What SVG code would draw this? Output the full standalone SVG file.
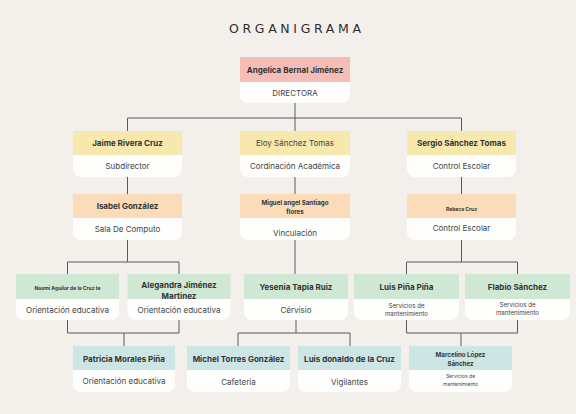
<svg xmlns="http://www.w3.org/2000/svg" width="576" height="414" viewBox="0 0 576 414">
<style>
.bg{fill:#f3f0eb}
.body{fill:#fefefd}
.p{fill:#f5bdb6}.y{fill:#f7e8ad}.o{fill:#fcdcb8}.g{fill:#cfe8d3}.t{fill:#cde6e5}
.n{font-family:Inter,"Liberation Sans",sans-serif;font-weight:700;font-size:8px;fill:#333;text-anchor:middle;dominant-baseline:central}
.s{font-family:Inter,"Liberation Sans",sans-serif;font-size:8px;fill:#444;text-anchor:middle;dominant-baseline:central}
.xs{font-size:5px}
.sm{font-size:6.2px}
.title{font-family:"DejaVu Sans",sans-serif;font-weight:500;font-size:12.5px;fill:#2e2e2e;text-anchor:middle;dominant-baseline:central}
#connectors path{fill:none;stroke:#5a5a5a;stroke-width:1}
</style>
<rect class="bg" width="576" height="414"/>
<text class="title" x="295" y="28" textLength="132" lengthAdjust="spacing">ORGANIGRAMA</text>
<g id="connectors">
<path d="M295 103V118M127.5 118H461.5M127.5 118V131M295 118V131M461.5 118V131"/>
<path d="M127.5 177V194M295 177V194M461.5 177V194"/>
<path d="M127.5 240V262M67.5 262H179M67.5 262V274M179 262V274"/>
<path d="M295 240V274"/>
<path d="M461.5 240V262M406.5 262H517.5M406.5 262V274M517.5 262V274"/>
<path d="M67.5 320V333M179 320V333M67.5 333H179M124 333V346"/>
<path d="M296 320V333M238 333H350M238 333V346M350 333V346"/>
<path d="M406.5 320V333M517.5 320V333M406.5 333H517.5M461 333V346"/>
</g>
<g id="n-angelica" transform="translate(240 57)">
<path class="body" d="M0 25H110V38a8 8 0 0 1-8 8H8a8 8 0 0 1-8-8Z"/>
<rect class="p" width="110" height="25"/>
<text class="n" x="55" y="12.5">Angelica Bernal Jiménez</text>
<text class="s" x="55" y="35.5">DIRECTORA</text>
</g>
<g id="n-jaime" transform="translate(73 131)">
<path class="body" d="M0 24H109V38a8 8 0 0 1-8 8H8a8 8 0 0 1-8-8Z"/>
<rect class="y" width="109" height="24"/>
<text class="n" x="54.5" y="12">Jaime Rivera Cruz</text>
<text class="s" x="54.5" y="35">Subdirector</text>
</g>
<g id="n-eloy" transform="translate(240 131)">
<path class="body" d="M0 24H110V38a8 8 0 0 1-8 8H8a8 8 0 0 1-8-8Z"/>
<rect class="y" width="110" height="24"/>
<text class="s" x="55" y="12">Eloy Sánchez Tomas</text>
<text class="s" x="55" y="35">Cordinación Académica</text>
</g>
<g id="n-sergio" transform="translate(407 131)">
<path class="body" d="M0 24H109V38a8 8 0 0 1-8 8H8a8 8 0 0 1-8-8Z"/>
<rect class="y" width="109" height="24"/>
<text class="n" x="54.5" y="12">Sergio Sánchez Tomas</text>
<text class="s" x="54.5" y="35">Control Escolar</text>
</g>
<g id="n-isabel" transform="translate(73 194)">
<path class="body" d="M0 24H109V38a8 8 0 0 1-8 8H8a8 8 0 0 1-8-8Z"/>
<rect class="o" width="109" height="24"/>
<text class="n" x="54.5" y="12">Isabel González</text>
<text class="s" x="54.5" y="35">Sala De Computo</text>
</g>
<g id="n-miguel" transform="translate(240 194)">
<path class="body" d="M0 24H110V38a8 8 0 0 1-8 8H8a8 8 0 0 1-8-8Z"/>
<rect class="o" width="110" height="24"/>
<text class="n sm" x="55" y="8">Miguel angel Santiago</text>
<text class="n sm" x="55" y="17">flores</text>
<text class="s" x="55" y="39">Vinculación</text>
</g>
<g id="n-rebeca" transform="translate(407 194)">
<path class="body" d="M0 24H109V38a8 8 0 0 1-8 8H8a8 8 0 0 1-8-8Z"/>
<rect class="o" width="109" height="24"/>
<text class="n xs" x="54.5" y="15">Rebeca Cruz</text>
<text class="s" x="54.5" y="34">Control Escolar</text>
</g>
<g id="n-naomi" transform="translate(16 274)">
<path class="body" d="M0 25H103V38a8 8 0 0 1-8 8H8a8 8 0 0 1-8-8Z"/>
<rect class="g" width="103" height="25"/>
<text class="n xs" x="51.5" y="14">Naomi Aguilar de la Cruz te</text>
<text class="s" x="51.5" y="36">Orientación educativa</text>
</g>
<g id="n-alegandra" transform="translate(127.5 274)">
<path class="body" d="M0 25H103V38a8 8 0 0 1-8 8H8a8 8 0 0 1-8-8Z"/>
<rect class="g" width="103" height="25"/>
<text class="n" x="51.5" y="11">Alegandra Jiménez</text>
<text class="n" x="51.5" y="22">Martinez</text>
<text class="s" x="51.5" y="36">Orientación educativa</text>
</g>
<g id="n-yesenia" transform="translate(244 274)">
<path class="body" d="M0 25H104V38a8 8 0 0 1-8 8H8a8 8 0 0 1-8-8Z"/>
<rect class="g" width="104" height="25"/>
<text class="n" x="52" y="13">Yesenia Tapia Ruiz</text>
<text class="s" x="52" y="36">Cérvisio</text>
</g>
<g id="n-luispina" transform="translate(354 274)">
<path class="body" d="M0 25H105V38a8 8 0 0 1-8 8H8a8 8 0 0 1-8-8Z"/>
<rect class="g" width="105" height="25"/>
<text class="n" x="52.5" y="13">Luis Piña Piña</text>
<text class="s sm" x="52.5" y="31">Servicios de</text>
<text class="s sm" x="52.5" y="39">mantenimiento</text>
</g>
<g id="n-flabio" transform="translate(465 274)">
<path class="body" d="M0 25H105V38a8 8 0 0 1-8 8H8a8 8 0 0 1-8-8Z"/>
<rect class="g" width="105" height="25"/>
<text class="n" x="52.5" y="13">Flabio Sánchez</text>
<text class="s sm" x="52.5" y="30">Servicios de</text>
<text class="s sm" x="52.5" y="38">mantenimiento</text>
</g>
<g id="n-patricia" transform="translate(73 346)">
<path class="body" d="M0 24H102V38a8 8 0 0 1-8 8H8a8 8 0 0 1-8-8Z"/>
<rect class="t" width="102" height="24"/>
<text class="n" x="51" y="13">Patricia Morales Piña</text>
<text class="s" x="51" y="35">Orientación educativa</text>
</g>
<g id="n-michel" transform="translate(187 346)">
<path class="body" d="M0 24H103V38a8 8 0 0 1-8 8H8a8 8 0 0 1-8-8Z"/>
<rect class="t" width="103" height="24"/>
<text class="n" x="51.5" y="13">Michel Torres González</text>
<text class="s" x="51.5" y="36">Cafeteria</text>
</g>
<g id="n-luisdonaldo" transform="translate(298 346)">
<path class="body" d="M0 24H103V38a8 8 0 0 1-8 8H8a8 8 0 0 1-8-8Z"/>
<rect class="t" width="103" height="24"/>
<text class="n" x="51.5" y="13">Luis donaldo de la Cruz</text>
<text class="s" x="51.5" y="36">Vigilantes</text>
</g>
<g id="n-marcelino" transform="translate(409 346)">
<path class="body" d="M0 24H103V38a8 8 0 0 1-8 8H8a8 8 0 0 1-8-8Z"/>
<rect class="t" width="103" height="24"/>
<text class="n sm" x="51.5" y="8">Marcelino López</text>
<text class="n sm" x="51.5" y="17">Sánchez</text>
<text class="s xs" x="51.5" y="30">Servicios de</text>
<text class="s xs" x="51.5" y="38">mantenimiento</text>
</g>
</svg>
